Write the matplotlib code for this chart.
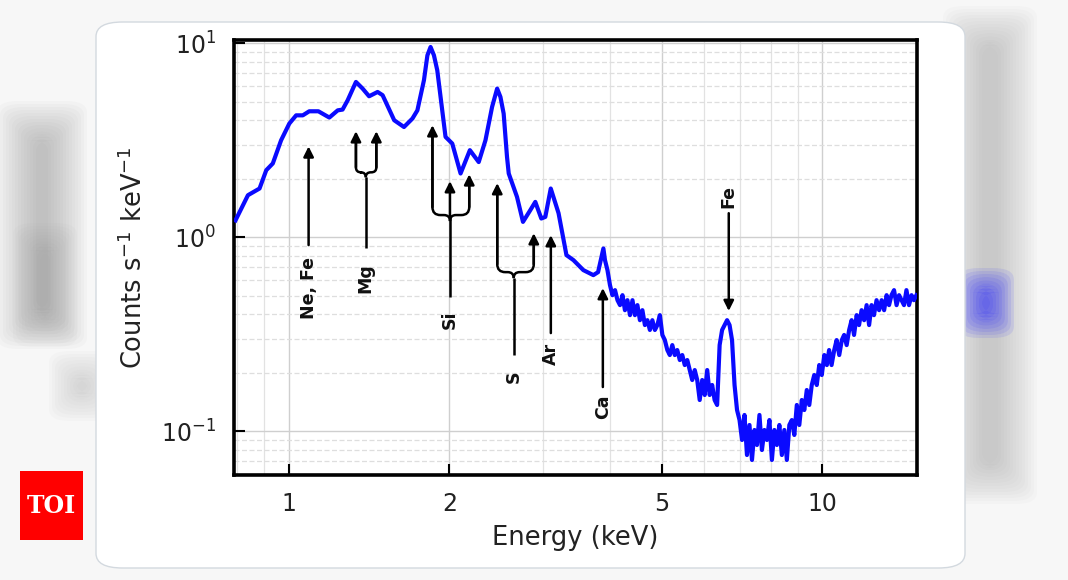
import matplotlib
matplotlib.use("Agg")
import matplotlib.pyplot as plt
from matplotlib.patches import FancyBboxPatch, Rectangle, PathPatch
from matplotlib.path import Path
from matplotlib.transforms import IdentityTransform
from matplotlib.ticker import FixedLocator, NullFormatter, LogLocator

# spectrum (keV, counts s^-1 keV^-1)
energy = [
    0.795, 0.839, 0.882, 0.908, 0.934, 0.968, 1.003, 1.033, 1.063, 1.093,
    1.137, 1.192, 1.236, 1.262, 1.290, 1.337, 1.376, 1.415, 1.468, 1.500,
    1.577, 1.645, 1.706, 1.743, 1.793, 1.820, 1.845, 1.872, 1.899, 1.968,
    2.026, 2.100, 2.186, 2.271, 2.338, 2.406, 2.459, 2.494, 2.529, 2.566,
    2.585, 2.679, 2.749, 2.837, 2.899, 2.975, 3.027, 3.099, 3.205, 3.316,
    3.418, 3.491, 3.567, 3.724, 3.801, 3.889,
    3.916, 3.958, 4.001, 4.044, 4.089, 4.133, 4.178, 4.223, 4.268, 4.314,
    4.362, 4.409, 4.456, 4.504, 4.553, 4.602, 4.652, 4.702, 4.753, 4.804,
    4.857, 4.909, 4.962, 5.016, 5.070, 5.125, 5.180, 5.236, 5.292, 5.349,
    5.408, 5.466, 5.525, 5.585, 5.645, 5.706, 5.768, 5.830, 5.893, 5.957,
    6.022, 6.087, 6.152, 6.218, 6.285, 6.353, 6.422, 6.491, 6.561, 6.632,
    6.703, 6.775, 6.849, 6.923, 6.998, 7.074, 7.149, 7.226, 7.305, 7.384,
    7.464, 7.545, 7.626, 7.708, 7.791, 7.875, 7.961, 8.047, 8.134, 8.222,
    8.310, 8.400, 8.491, 8.583, 8.676, 8.770, 8.864, 8.960, 9.057, 9.155,
    9.254, 9.354, 9.455, 9.557, 9.661, 9.765, 9.871, 9.978, 10.09, 10.20,
    10.30, 10.41, 10.53, 10.64, 10.76, 10.88, 10.99, 11.11, 11.23, 11.35,
    11.47, 11.60, 11.72, 11.85, 11.98, 12.11, 12.24, 12.37, 12.50, 12.64,
    12.78, 12.92, 13.06, 13.20, 13.34, 13.48, 13.63, 13.78, 13.93, 14.08,
    14.23, 14.38, 14.54, 14.70, 14.85, 15.01]

counts = [
    1.22, 1.646, 1.782, 2.215, 2.40, 3.16, 3.855, 4.25, 4.25, 4.46,
    4.46, 4.14, 4.51, 4.55, 5.08, 6.32, 5.84, 5.33, 5.61, 5.40,
    4.01, 3.70, 4.09, 4.51, 6.45, 8.67, 9.57, 8.67, 7.26, 3.29,
    3.04, 2.13, 2.81, 2.44, 3.16, 4.70, 5.84, 5.29, 4.34, 2.59,
    2.13, 1.613, 1.199, 1.378, 1.52, 1.248, 1.272, 1.782, 1.329, 0.808,
    0.761, 0.717, 0.676, 0.637, 0.660, 0.874,
    0.761, 0.676, 0.566, 0.502, 0.533, 0.473, 0.446, 0.502, 0.420, 0.473,
    0.396, 0.473, 0.396, 0.446, 0.373, 0.420, 0.352, 0.373, 0.332, 0.373,
    0.332, 0.352, 0.396, 0.313, 0.2944, 0.2616, 0.2465, 0.2775, 0.2465, 0.2616,
    0.2323, 0.2465, 0.2189, 0.2323, 0.2063, 0.1832, 0.2063, 0.1832, 0.1445, 0.1832,
    0.1534, 0.2063, 0.1534, 0.1727, 0.1445, 0.1362, 0.2775, 0.332, 0.352, 0.373,
    0.352, 0.2944, 0.1727, 0.1283, 0.1139, 0.0899, 0.1210, 0.0752, 0.1074, 0.0709,
    0.1012, 0.0847, 0.1210, 0.0798, 0.1012, 0.0899, 0.1139, 0.0709, 0.1012, 0.0847,
    0.1074, 0.0752, 0.1012, 0.0709, 0.1074, 0.1139, 0.0954, 0.1362, 0.1074, 0.1445,
    0.1283, 0.1627, 0.1362, 0.1727, 0.1945, 0.1727, 0.2189, 0.1945, 0.2465, 0.2189,
    0.2616, 0.2189, 0.2616, 0.2944, 0.2465, 0.2944, 0.313, 0.2775, 0.332, 0.373,
    0.313, 0.396, 0.352, 0.420, 0.373, 0.446, 0.352, 0.446, 0.396, 0.473,
    0.420, 0.473, 0.420, 0.502, 0.446, 0.502, 0.533, 0.446, 0.502, 0.473,
    0.446, 0.533, 0.446, 0.502, 0.473, 0.502]

x_ticks = [1, 2, 5, 10]
x_ticklabels = ["1", "2", "5", "10"]

# line identifications: label, stem energy, branch energies, tip heights, join, base, label y
lines = [
    ("Ne, Fe", 1.09, [1.09], [2.94], None, 0.91, 0.546),
    ("Mg", 1.395, [1.337, 1.46], [3.52, 3.52], 2.16, 0.878, 0.615),
    ("Si", 2.006, [1.86, 2.006, 2.18], [3.78, 1.945, 2.11], 1.30, 0.491, 0.373),
    ("S", 2.641, [2.46, 2.88], [1.90, 1.048], 0.66, 0.2465, 0.19),
    ("Ar", 3.10, [3.10], [1.024], None, 0.32, 0.249),
    ("Ca", 3.88, [3.88], [0.546], None, 0.1686, 0.133),
]
fe_line = ("Fe", 6.68, 1.329, 0.416, 1.63)

W, H = 1068, 580
fig = plt.figure(figsize=(W / 100, H / 100), dpi=100)
fig.patch.set_facecolor("#f7f7f7")


def px(x, y):
    return x / W, 1 - y / H


def soft(x, y, w, h, color, layers=14, grow=3.0, alpha=0.045):
    # stacked translucent boxes to fake the blurred page behind the card
    for i in range(layers):
        g = i * grow
        x0, y0 = px(x - g, y + h + g)
        fig.add_artist(FancyBboxPatch((x0, y0), (w + 2 * g) / W, (h + 2 * g) / H,
                                      boxstyle="round,pad=0,rounding_size=0.02",
                                      transform=fig.transFigure, facecolor=color,
                                      edgecolor="none", alpha=alpha, zorder=0))


soft(36, 140, 12, 170, "#8c8c8c")
soft(40, 250, 10, 70, "#999999", layers=10)
soft(76, 378, 12, 16, "#a8a8a8", layers=10)
soft(982, 45, 16, 420, "#9a9a9a", alpha=0.04)
soft(982, 292, 8, 22, "#3030ff", layers=9, alpha=0.1)

# white card
cx, cy = px(96, 568)
fig.add_artist(FancyBboxPatch((cx, cy), 869 / W, 546 / H,
                              boxstyle="round,pad=0,rounding_size=0.025",
                              transform=fig.transFigure, facecolor="white",
                              edgecolor="#d3d9df", lw=1.0, zorder=1))

# TOI logo
lx, ly = px(20, 540)
fig.add_artist(Rectangle((lx, ly), 63 / W, 69 / H, transform=fig.transFigure,
                         facecolor="#ff0000", edgecolor="none", zorder=2))
fig.text(51.5 / W, 1 - 506 / H, "TOI", color="white", fontsize=17, fontweight="bold",
         family="DejaVu Serif", ha="center", va="center", zorder=3)

ax = fig.add_axes([234 / W, 1 - 475 / H, (917 - 234) / W, (475 - 40) / H], zorder=5)
ax.plot(energy, counts, color="#0a0aff", lw=3.0, solid_joinstyle="round", zorder=3)
ax.set_xscale("log")
ax.set_yscale("log")
ax.set_xlim(0.79, 15.05)
ax.set_ylim(0.0593, 10.4)

ax.xaxis.set_major_locator(FixedLocator(x_ticks))
ax.set_xticklabels(x_ticklabels)
ax.xaxis.set_minor_locator(LogLocator(base=10, subs=range(1, 10)))
ax.xaxis.set_minor_formatter(NullFormatter())
ax.yaxis.set_major_locator(LogLocator(base=10, numticks=10))
ax.yaxis.set_minor_locator(LogLocator(base=10, subs=range(2, 10), numticks=10))
ax.yaxis.set_minor_formatter(NullFormatter())

ax.tick_params(which="major", direction="in", length=8, width=1.5, labelsize=17,
               labelcolor="#222222")
ax.tick_params(axis="y", which="major", pad=13)
ax.tick_params(axis="x", which="major", pad=12)
ax.tick_params(which="minor", length=0)

ax.grid(which="major", color="#cfcfcf", lw=1.0)
ax.xaxis.grid(which="minor", color="#e2e2e2", lw=0.9, ls="-")
ax.yaxis.grid(which="minor", color="#dedede", lw=0.9, ls=(0, (4, 2)))
ax.set_axisbelow(True)

for s in ax.spines.values():
    s.set_linewidth(2.6)
    s.set_color("black")

ax.set_xlabel("Energy (keV)", fontsize=18.5, color="#222222", labelpad=7)
ax.set_ylabel("Counts s$^{-1}$ keV$^{-1}$", fontsize=18.5, color="#222222", labelpad=9)

arrow_kw = dict(arrowstyle="-|>", color="black", lw=1.8, shrinkA=0, shrinkB=0,
                mutation_scale=15)
to_px = ax.transData.transform


def draw_path(verts, codes):
    ax.add_patch(PathPatch(Path(verts, codes), transform=IdentityTransform(),
                           fill=False, lw=1.8, ec="black", capstyle="butt",
                           joinstyle="round", zorder=4))


def fork(stem, branches, tips, join, base, c, r):
    # brace-like fork: stem rising, bending out to each side branch, arrows on top
    sx, yj = to_px((stem, join))
    _, yb = to_px((stem, base))
    top = yj if stem in branches else yj - c
    draw_path([(sx, yb), (sx, top)], [Path.MOVETO, Path.LINETO])
    for bx_d, ty_d in zip(branches, tips):
        bx, ty = to_px((bx_d, ty_d))
        if bx_d != stem:
            s = 1 if bx > sx else -1
            draw_path([(sx, yj - c), (sx, yj), (sx + s * c, yj), (bx - s * r, yj),
                       (bx, yj), (bx, yj + r), (bx, ty - 4)],
                      [Path.MOVETO, Path.CURVE3, Path.CURVE3, Path.LINETO,
                       Path.CURVE3, Path.CURVE3, Path.LINETO])
            start = ax.transData.inverted().transform((bx, yj + r))[1]
        else:
            start = join
        ax.annotate("", xy=(bx_d, ty_d), xytext=(bx_d, start), arrowprops=arrow_kw)


for name, stem, branches, tips, join, base, ylab in lines:
    if join is None:
        ax.annotate("", xy=(stem, tips[0]), xytext=(stem, base), arrowprops=arrow_kw)
    elif name == "Mg":
        fork(stem, branches, tips, join, base, 5, 5)
    else:
        fork(stem, branches, tips, join, base, 6, 8)
    ax.text(stem, ylab, name, rotation=90, ha="center", va="center",
            fontsize=12.5, fontweight="bold", color="#111111")

name, ex, ytop, ytip, ylab = fe_line
ax.annotate("", xy=(ex, ytip), xytext=(ex, ytop), arrowprops=arrow_kw)
ax.text(ex, ylab, name, rotation=90, ha="center", va="center",
        fontsize=12.5, fontweight="bold", color="#111111")

fig.savefig("out.png", dpi=100, facecolor=fig.get_facecolor())
